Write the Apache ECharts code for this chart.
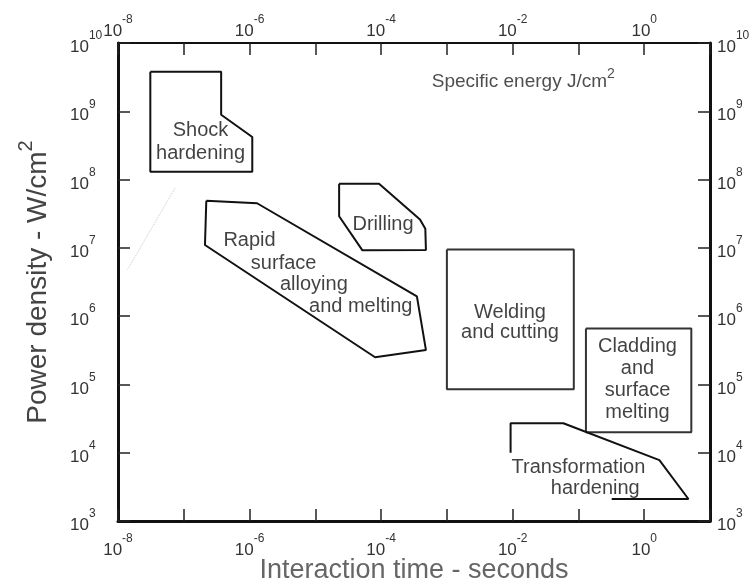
<!DOCTYPE html>
<html>
<head>
<meta charset="utf-8">
<script src="https://cdn.jsdelivr.net/npm/echarts@6/dist/echarts.min.js"></script>
<style>
html, body { margin: 0; padding: 0; background: #fff; }
#chart { width: 753px; height: 584px; }
</style>
</head>
<body>
<div id="chart"></div>
<script>
// 坐标范围与刻度（10 的幂）
var xMin = 1e-8, xMax = 1e1;
var yMin = 1e3, yMax = 1e10;
var bottomTickExps = [-8, -6, -4, -2, 0];
var topTickExps = [-8, -6, -4, -2, 0];
var yTickExps = [3, 4, 5, 6, 7, 8, 9, 10];

// 各工艺区域边界 [作用时间 s, 功率密度 W/cm2]
var shockHardening = [[3.1e-8, 3.8e9], [3.7e-7, 3.8e9], [3.7e-7, 8.9e8], [1.1e-6, 4.2e8], [1.1e-6, 1.3e8], [3.1e-8, 1.3e8], [3.1e-8, 3.8e9]];
var rapidSurface = [[2.2e-7, 4.9e7], [1.3e-6, 4.5e7], [3.5e-4, 1.95e6], [4.8e-4, 3.2e5], [8.1e-5, 2.5e5], [2.1e-7, 1.1e7], [2.2e-7, 4.9e7]];
var drilling = [[2.3e-5, 8.7e7], [9.3e-5, 8.7e7], [3.9e-4, 2.6e7], [4.7e-4, 1.9e7], [4.8e-4, 9.3e6], [5.2e-5, 9.2e6], [2.3e-5, 2.9e7], [2.3e-5, 8.7e7]];
var welding = [[1e-3, 9.5e6], [8.5e-2, 9.5e6], [8.5e-2, 8.5e4], [1e-3, 8.5e4], [1e-3, 9.5e6]];
var cladding = [[0.13, 6.6e5], [5.2, 6.6e5], [5.2, 2e4], [0.13, 2e4], [0.13, 6.6e5]];
var transformation = [[9.3e-3, 1e4], [9.3e-3, 2.7e4], [5.9e-2, 2.7e4], [1.7, 7.8e3], [4.7, 2.1e3], [0.32, 2.1e3]];
var scanTrace = [[7.4e-8, 7.6e7], [1.4e-8, 4.8e6]];

// 区域文字 [文本, x, y, 行高]
var regionLabels = [
    ['Shock\nhardening', 1.8e-7, 3.5e8, 23],
    ['Rapid', 1.0e-6, 1.3e7, 20],
    ['surface', 3.3e-6, 6.0e6, 20],
    ['alloying', 9.5e-6, 2.9e6, 20],
    ['and melting', 4.9e-5, 1.4e6, 20],
    ['Drilling', 1.07e-4, 2.2e7, 20],
    ['Welding\nand cutting', 9.1e-3, 8.0e5, 20],
    ['Cladding\nand\nsurface\nmelting', 0.79, 1.2e5, 22],
    ['Transformation', 0.10, 6.0e3, 20],
    ['hardening', 0.18, 2.95e3, 20]
];
var energyLabel = ['Specific energy J/cm', '2', 1.45e-2, 2.95e9];

var FONT = 'Liberation Sans';

var tickRich = {
    b: { fontSize: 17, color: '#333', fontFamily: FONT, verticalAlign: 'bottom', lineHeight: 26 },
    e: { fontSize: 12, color: '#333', fontFamily: FONT, verticalAlign: 'top', lineHeight: 14 }
};

function powLabel(exps) {
    return function (v) {
        var e = Math.round(Math.log(v) / Math.LN10);
        if (exps.indexOf(e) < 0) return '';
        return '{b|10}{e|' + e + '}';
    };
}

var tickStyle = { show: true, inside: true, length: 12, lineStyle: { color: '#222', width: 1.5 } };

function boxSeries(name, data, color) {
    return {
        name: name,
        type: 'line',
        data: data,
        symbol: 'none',
        silent: true,
        lineStyle: { color: color || '#111', width: 2 },
        z: 3
    };
}

var labelData = regionLabels.map(function (r) {
    return {
        value: [r[1], r[2]],
        name: r[0],
        label: { lineHeight: r[3] }
    };
});
labelData.push({
    value: [energyLabel[2], energyLabel[3]],
    name: 'energy',
    label: {
        formatter: '{a|' + energyLabel[0] + '}{s|' + energyLabel[1] + '}',
        rich: {
            a: { fontSize: 19, fontFamily: FONT, color: '#222', verticalAlign: 'bottom', lineHeight: 24 },
            s: { fontSize: 14, fontFamily: FONT, color: '#222', verticalAlign: 'top', lineHeight: 14 }
        }
    }
});

var option = {
    animation: false,
    backgroundColor: '#fff',
    grid: { left: 118, top: 43, right: 43, bottom: 63, containLabel: false, outerBoundsMode: 'none' },
    xAxis: [{
        type: 'log', logBase: 10, min: xMin, max: xMax, splitNumber: 10,
        position: 'bottom',
        name: 'Interaction time - seconds',
        nameLocation: 'middle', nameGap: 36, nameMoveOverlap: false,
        nameTextStyle: { fontSize: 27, color: '#666', fontFamily: FONT },
        axisLine: { onZero: false, lineStyle: { color: '#111', width: 3 } },
        axisTick: tickStyle,
        splitLine: { show: false },
        axisLabel: { margin: 12, formatter: powLabel(bottomTickExps), rich: tickRich }
    }, {
        type: 'log', logBase: 10, min: xMin, max: xMax, splitNumber: 10,
        position: 'top',
        axisLine: { onZero: false, lineStyle: { color: '#111', width: 2 } },
        axisTick: tickStyle,
        splitLine: { show: false },
        axisLabel: { margin: 3, formatter: powLabel(topTickExps), rich: tickRich }
    }],
    yAxis: [{
        type: 'log', logBase: 10, min: yMin, max: yMax, splitNumber: 10,
        position: 'left',
        name: '{a|Power density - W/cm}{s|2}',
        nameLocation: 'middle', nameGap: 66, nameMoveOverlap: false,
        nameTextStyle: {
            rich: {
                a: { fontSize: 28, color: '#444', fontFamily: FONT, verticalAlign: 'bottom', lineHeight: 36 },
                s: { fontSize: 20, color: '#444', fontFamily: FONT, verticalAlign: 'top', lineHeight: 20 }
            }
        },
        axisLine: { onZero: false, lineStyle: { color: '#111', width: 3 } },
        axisTick: tickStyle,
        splitLine: { show: false },
        axisLabel: { margin: 48, align: 'left', formatter: powLabel(yTickExps), rich: tickRich }
    }, {
        type: 'log', logBase: 10, min: yMin, max: yMax, splitNumber: 10,
        position: 'right',
        axisLine: { onZero: false, lineStyle: { color: '#111', width: 3 } },
        axisTick: tickStyle,
        splitLine: { show: false },
        axisLabel: { margin: 7, formatter: powLabel(yTickExps), rich: tickRich }
    }],
    series: [
        boxSeries('Shock hardening', shockHardening),
        boxSeries('Rapid surface alloying and melting', rapidSurface),
        boxSeries('Drilling', drilling),
        boxSeries('Welding and cutting', welding, '#333'),
        boxSeries('Cladding and surface melting', cladding, '#333'),
        boxSeries('Transformation hardening', transformation),
        {
            type: 'line', data: scanTrace, symbol: 'none', silent: true,
            lineStyle: { color: '#ccc', width: 1, type: 'dotted' }, z: 1
        },
        {
            type: 'scatter',
            data: labelData,
            symbolSize: 1,
            silent: true,
            itemStyle: { color: 'rgba(0,0,0,0)' },
            label: {
                show: true,
                position: 'inside',
                formatter: '{b}',
                fontSize: 20,
                fontFamily: FONT,
                color: '#111',
                align: 'center',
                verticalAlign: 'middle'
            },
            z: 4
        }
    ]
};

var myChart = echarts.init(document.getElementById('chart'));
myChart.setOption(option, true);
</script>
</body>
</html>
